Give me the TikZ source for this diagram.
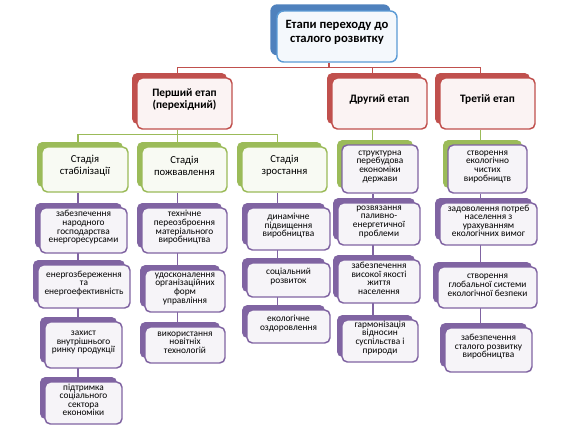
\documentclass[tikz,border=0pt]{standalone}
\usepackage{fontspec}
\setmainfont{Carlito}
\usetikzlibrary{backgrounds,fit,calc}
\definecolor{cblue}{HTML}{4F81BD}
\definecolor{cbluel}{HTML}{5B9BD5}
\definecolor{cred}{HTML}{C0504D}
\definecolor{cgreen}{HTML}{9BBB59}
\definecolor{cpurple}{HTML}{8064A2}
\tikzset{
  box/.style 2 args={draw=#1, fill=#1!7, line width=1.1pt, rounded corners=4pt,
    inner sep=0pt, align=center,
    preaction={fill=#2, transform canvas={shift={(-3.75pt,3.75pt)}}}},
  topbox/.style={draw=cbluel, fill=cbluel!7, line width=1.1pt, rounded corners=5pt,
    inner sep=0pt, align=center, font=\bfseries\fontsize{9.5}{11}\selectfont,
    preaction={fill=cblue, transform canvas={shift={(-5pt,5pt)}}}},
  lvtwo/.style={box={cred}{cred}, font=\bfseries\fontsize{8.5}{9.5}\selectfont},
  lvthree/.style={box={cgreen}{cgreen}, font=\fontsize{8}{8.5}\selectfont},
  lvthreep/.style={box={cpurple}{cgreen}, font=\fontsize{7}{6.6}\selectfont},
  small/.style={box={cpurple}{cpurple}, font=\fontsize{7}{6.4}\selectfont},
  conn/.style={draw=#1, line width=1.1pt}
}
\newcommand\cbox[7]{\node[#1, fit={(#3,#4)(#5,#6)}] (#2) {#7};}
\begin{document}
\begin{tikzpicture}[x=0.75pt,y=-0.75pt]
\useasboundingbox (0,0) rectangle (579,426);
% top
\cbox{topbox}{top}{277}{11}{397}{62}{Етапи переходу до\\сталого розвитку}
% level 2
\cbox{lvtwo}{L2a}{137}{78}{232}{129}{Перший етап\\(перехідний)}
\cbox{lvtwo}{L2b}{332}{78}{427}{129}{Другий етап}
\cbox{lvtwo}{L2c}{440}{78}{535}{129}{Третій етап}
% level 3
\cbox{lvthree}{S1}{42}{147}{128}{192}{Стадія\\стабілізації}
\cbox{lvthree}{S2}{142}{147}{227}{192}{Стадія\\пожвавлення}
\cbox{lvthree}{S3}{242}{147}{327}{192}{Стадія\\зростання}
\cbox{lvthreep}{D1}{342}{145}{418}{193}{структурна\\перебудова\\економіки\\держави}
\cbox{lvthreep}{T1}{448}{145}{527}{193}{створення\\екологічно\\чистих\\виробництв}
% column 1
\cbox{small}{A1}{40}{208}{127}{253}{забезпечення\\народного\\господарства\\енергоресурсами}
\cbox{small}{A2}{38}{265}{130}{308}{енергозбереження\\та\\енергоефективність}
\cbox{small}{A3}{45}{322}{122}{368}{захист\\внутрішнього\\ринку продукції}
\cbox{small}{A4}{45}{382}{122}{424}{підтримка\\соціального\\сектора\\економіки}
% column 2
\cbox{small}{B1}{142}{208}{227}{253}{технічне\\переозброєння\\матеріального\\виробництва}
\cbox{small}{B2}{145}{270}{225}{312}{удосконалення\\організаційних\\форм\\управління}
\cbox{small}{B3}{145}{327}{225}{363}{використання\\новітніх\\технологій}
% column 3
\cbox{small}{C1}{247}{208}{330}{250}{динамічне\\підвищення\\виробництва}
\cbox{small}{C2}{247}{263}{330}{297}{соціальний\\розвиток}
\cbox{small}{C3}{247}{310}{330}{343}{екологічне\\оздоровлення}
% column 4
\cbox{small}{E1}{338}{203}{420}{245}{розвязання\\паливно-\\енергетичної\\проблеми}
\cbox{small}{E2}{338}{260}{420}{303}{забезпечення\\високої якості\\життя\\населення}
\cbox{small}{E3}{342}{320}{418}{362}{гармонізація\\відносин\\суспільства і\\природи}
% column 5
\cbox{small}{F1}{440}{203}{537}{245}{задоволення потреб\\населення з\\урахуванням\\екологічних вимог}
\cbox{small}{F2}{438}{267}{537}{308}{створення\\глобальної системи\\екологічної безпеки}
\cbox{small}{F3}{445}{328}{532}{372}{забезпечення\\сталого розвитку\\виробництва}
% connectors
\begin{scope}[on background layer]
  \coordinate (pt) at ($(top.south)+(-8,0)$);
  \draw[conn=cred] (pt) -- ++(0,5) coordinate (h1);
  \draw[conn=cred] ($(L2a.north)+(-7,0)$) |- (h1) -| ($(L2c.north)+(-7,0)$);
  \draw[conn=cred] ($(L2b.north)+(-7,0)$) |- (h1);
  \coordinate (pa) at ($(L2a.south)+(-7,0)$);
  \draw[conn=cgreen] (pa) -- (pa |- S2.north);
  \draw[conn=cgreen] ($(S1.north)+(-7,0)$) |- ($(pa)+(0,5)$) -| ($(S3.north)+(-7,0)$);
  \coordinate (pb) at ($(L2b.south)+(-7,0)$);
  \draw[conn=cgreen] (pb) -- (pb |- D1.north);
  \coordinate (pc) at ($(L2c.south)+(-7,0)$);
  \draw[conn=cgreen] (pc) -- (pc |- T1.north);
  \coordinate (k1) at ($(S1.south)+(-7,0)$);
  \draw[conn=cpurple] (k1) -- (k1 |- A4.north);
  \coordinate (k2) at ($(S2.south)+(-7,0)$);
  \draw[conn=cpurple] (k2) -- (k2 |- B3.north);
  \coordinate (k3) at ($(S3.south)+(-7,0)$);
  \draw[conn=cpurple] (k3) -- (k3 |- C3.north);
  \coordinate (k4) at ($(D1.south)+(-7,0)$);
  \draw[conn=cpurple] (k4) -- (k4 |- E3.north);
  \coordinate (k5) at ($(T1.south)+(-7,0)$);
  \draw[conn=cpurple] (k5) -- (k5 |- F3.north);
\end{scope}
\end{tikzpicture}
\end{document}
